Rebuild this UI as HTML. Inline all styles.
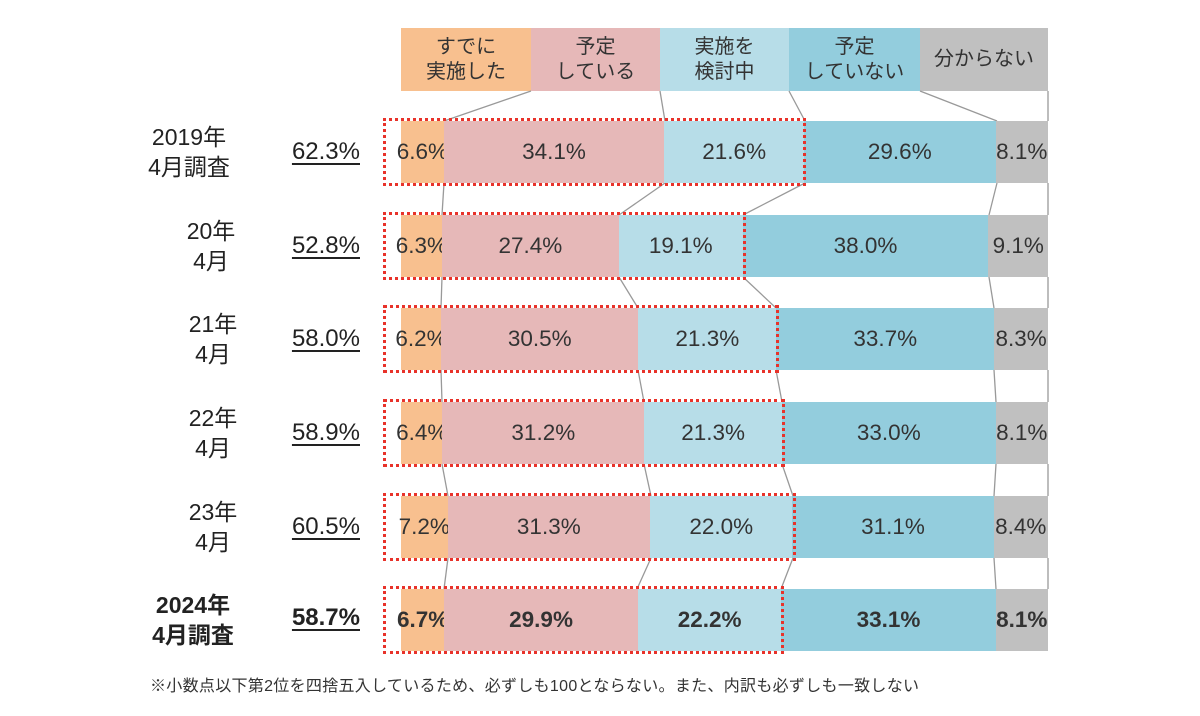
<!DOCTYPE html>
<html><head><meta charset="utf-8"><style>
body{margin:0;width:1200px;height:716px;background:#fff;font-family:"Liberation Sans","Noto Sans CJK JP",sans-serif;color:#222;position:relative;overflow:hidden}
.a{position:absolute}
.hd{position:absolute;top:28px;height:63px;display:flex;align-items:center;justify-content:center;text-align:center;font-size:20px;line-height:25px;color:#333}
.bar{position:absolute;left:401px;width:647px;height:62px;display:flex}
.bar div{height:100%;display:flex;align-items:center;justify-content:center;font-size:22.5px;color:#333;white-space:nowrap}
.c1{background:#f8c08f}.c2{background:#e6b8b8}.c3{background:#b7dde8}.c4{background:#93cddd}.c5{background:#c0c0c0}
.box{position:absolute;border:3px dotted #e8322a;height:62px;left:383px}
.lab{position:absolute;text-align:center;font-size:23px;line-height:30px;width:130px}
.pct{position:absolute;left:252px;width:108px;text-align:right;font-size:24px;text-decoration:underline;text-underline-offset:4px}
</style></head><body>
<div class="hd c1" style="left:401px;width:130px">すでに<br>実施した</div>
<div class="hd c2" style="left:531px;width:129px">予定<br>している</div>
<div class="hd c3" style="left:660px;width:129px">実施を<br>検討中</div>
<div class="hd c4" style="left:789px;width:131px">予定<br>していない</div>
<div class="hd c5" style="left:920px;width:128px">分からない</div>

<svg class="a" style="left:0;top:0" width="1200" height="716">
<g stroke="#999" stroke-width="1.3" fill="none">
<polyline points="531,91 444,121"/><polyline points="660,91 665,121"/><polyline points="789,91 805,121"/><polyline points="920,91 997,121"/><polyline points="1048,91 1048,121"/>
<polyline points="444,183 442,215"/><polyline points="665,183 619,215"/><polyline points="805,183 743,215"/><polyline points="997,183 989,215"/><polyline points="1048,183 1048,215"/>
<polyline points="442,277 441,308"/><polyline points="619,277 638,308"/><polyline points="743,277 776,308"/><polyline points="989,277 994,308"/><polyline points="1048,277 1048,308"/>
<polyline points="441,370 442,402"/><polyline points="638,370 644,402"/><polyline points="776,370 782,402"/><polyline points="994,370 996,402"/><polyline points="1048,370 1048,402"/>
<polyline points="442,464 448,496"/><polyline points="644,464 651,496"/><polyline points="782,464 793,496"/><polyline points="996,464 994,496"/><polyline points="1048,464 1048,496"/>
<polyline points="448,558 444,589"/><polyline points="651,558 637,589"/><polyline points="793,558 781,589"/><polyline points="994,558 996,589"/><polyline points="1048,558 1048,589"/>
</g></svg>

<div class="bar" style="top:121px"><div class="c1" style="width:6.6%">6.6%</div><div class="c2" style="width:34.1%">34.1%</div><div class="c3" style="width:21.6%">21.6%</div><div class="c4" style="width:29.6%">29.6%</div><div class="c5" style="flex:1">8.1%</div></div>
<div class="bar" style="top:215px"><div class="c1" style="width:6.3%">6.3%</div><div class="c2" style="width:27.4%">27.4%</div><div class="c3" style="width:19.1%">19.1%</div><div class="c4" style="width:38.0%">38.0%</div><div class="c5" style="flex:1">9.1%</div></div>
<div class="bar" style="top:308px"><div class="c1" style="width:6.2%">6.2%</div><div class="c2" style="width:30.5%">30.5%</div><div class="c3" style="width:21.3%">21.3%</div><div class="c4" style="width:33.7%">33.7%</div><div class="c5" style="flex:1">8.3%</div></div>
<div class="bar" style="top:402px"><div class="c1" style="width:6.4%">6.4%</div><div class="c2" style="width:31.2%">31.2%</div><div class="c3" style="width:21.3%">21.3%</div><div class="c4" style="width:33.0%">33.0%</div><div class="c5" style="flex:1">8.1%</div></div>
<div class="bar" style="top:496px"><div class="c1" style="width:7.2%">7.2%</div><div class="c2" style="width:31.3%">31.3%</div><div class="c3" style="width:22.0%">22.0%</div><div class="c4" style="width:31.1%">31.1%</div><div class="c5" style="flex:1">8.4%</div></div>
<div class="bar" style="top:589px"><div class="c1" style="width:6.7%;font-weight:bold">6.7%</div><div class="c2" style="width:29.9%;font-weight:bold">29.9%</div><div class="c3" style="width:22.2%;font-weight:bold">22.2%</div><div class="c4" style="width:33.1%;font-weight:bold">33.1%</div><div class="c5" style="flex:1;font-weight:bold">8.1%</div></div>

<div class="box" style="top:118px;width:417px"></div>
<div class="box" style="top:212px;width:357px"></div>
<div class="box" style="top:305px;width:390px"></div>
<div class="box" style="top:399px;width:396px"></div>
<div class="box" style="top:493px;width:407px"></div>
<div class="box" style="top:586px;width:395px"></div>

<div class="lab" style="left:124px;top:122px">2019年<br>4月調査</div>
<div class="lab" style="left:146px;top:216px">20年<br>4月</div>
<div class="lab" style="left:148px;top:309px">21年<br>4月</div>
<div class="lab" style="left:148px;top:403px">22年<br>4月</div>
<div class="lab" style="left:148px;top:497px">23年<br>4月</div>
<div class="lab" style="left:128px;top:590px;font-weight:bold">2024年<br>4月調査</div>

<div class="pct" style="top:138px">62.3%</div>
<div class="pct" style="top:232px">52.8%</div>
<div class="pct" style="top:325px">58.0%</div>
<div class="pct" style="top:419px">58.9%</div>
<div class="pct" style="top:513px">60.5%</div>
<div class="pct" style="top:604px;font-weight:bold">58.7%</div>

<div class="a" style="left:150px;top:672px;font-size:16px;letter-spacing:0.3px;color:#333">※小数点以下第2位を四捨五入しているため、必ずしも100とならない。また、内訳も必ずしも一致しない</div>
</body></html>
